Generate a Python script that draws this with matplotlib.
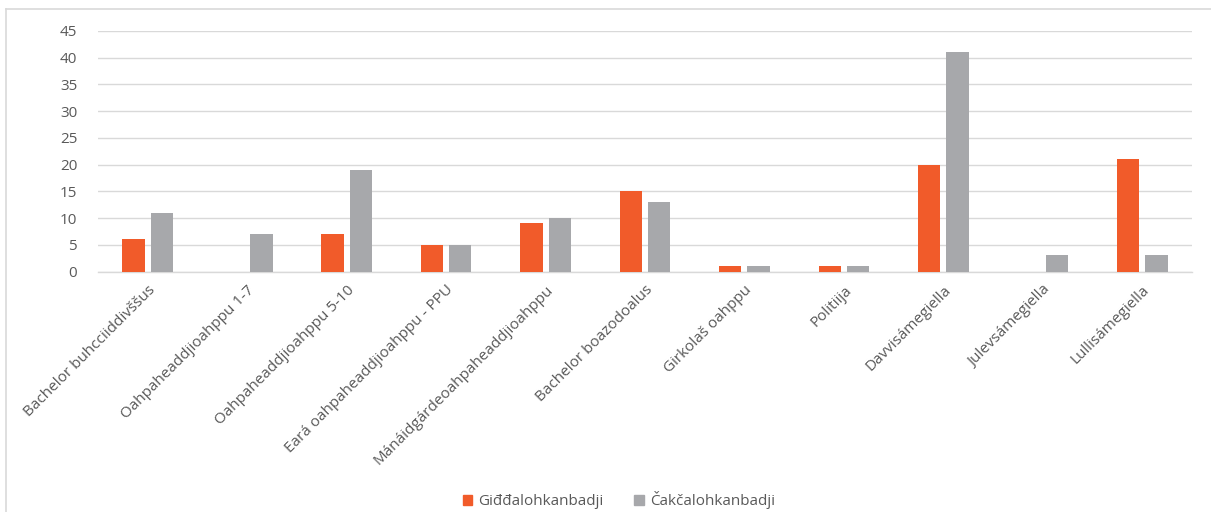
import matplotlib
matplotlib.use("Agg")
import matplotlib.pyplot as plt
import numpy as np
from matplotlib.patches import Rectangle
from matplotlib.lines import Line2D

categories = ["Bachelor buhcciiddivššus", "Oahpaheaddjioahppu 1-7", "Oahpaheaddjioahppu 5-10",
              "Eará oahpaheaddjioahppu - PPU", "Mánáidgárdeoahpaheaddjioahppu", "Bachelor boazodoalus",
              "Girkolaš oahppu", "Politiija", "Davvisámegiella", "Julevsámegiella", "Lullisámegiella"]
gidda = [6, 0, 7, 5, 9, 15, 1, 1, 20, 0, 21]
cakca = [11, 7, 19, 5, 10, 13, 1, 1, 41, 3, 3]
series_names = ["Giđđalohkanbadji", "Čakčalohkanbadji"]
yticks = [0, 5, 10, 15, 20, 25, 30, 35, 40, 45]

orange = "#F15B2A"
grey = "#A7A8AB"
text_col = "#595959"

plt.rcParams['font.family'] = ['Open Sans', 'DejaVu Sans']

fig = plt.figure(figsize=(12.11, 5.12), dpi=100)
ax = fig.add_axes([98/1211, 1-271.5/512, (1192-98)/1211, (271.5-31)/512])

x = np.arange(len(categories))
w = 0.225
gap = 0.03
ax.bar(x - w/2 - gap, gidda, width=w, color=orange, zorder=3)
ax.bar(x + w/2 + gap, cakca, width=w, color=grey, zorder=3)

ax.set_xlim(-0.5, len(categories) - 0.5)
ax.set_ylim(0, 45)
ax.set_yticks(yticks)
ax.set_yticklabels([str(t) for t in yticks], fontsize=11, color=text_col)
ax.yaxis.grid(True, color="#D9D9D9", linewidth=1.0, zorder=0)
ax.set_axisbelow(True)
for s in ["top", "right", "left"]:
    ax.spines[s].set_visible(False)
ax.spines["bottom"].set_color("#D9D9D9")
ax.spines["bottom"].set_linewidth(1.0)
ax.tick_params(axis="y", length=0, pad=15)
ax.tick_params(axis="x", length=0, pad=8)
ax.set_xticks(x)
ax.set_xticklabels(categories, rotation=45, ha="right", va="top", rotation_mode="anchor",
                   fontsize=11, color=text_col)

# chart border (top and left visible)
fig.add_artist(Line2D([6/1211, 1], [1-9/512, 1-9/512], color="#D9D9D9", linewidth=1.2))
fig.add_artist(Line2D([6/1211, 6/1211], [0, 1-9/512], color="#D9D9D9", linewidth=1.2))

handles = [Rectangle((0, 0), 1, 1, color=orange), Rectangle((0, 0), 1, 1, color=grey)]
fig.legend(handles, series_names, loc="center", bbox_to_anchor=(619/1211, 1-500/512),
           ncol=2, frameon=False, fontsize=11, handlelength=0.65, handleheight=0.65,
           handletextpad=0.4, columnspacing=2.0, labelcolor=text_col)

fig.savefig("out.png", dpi=100)
